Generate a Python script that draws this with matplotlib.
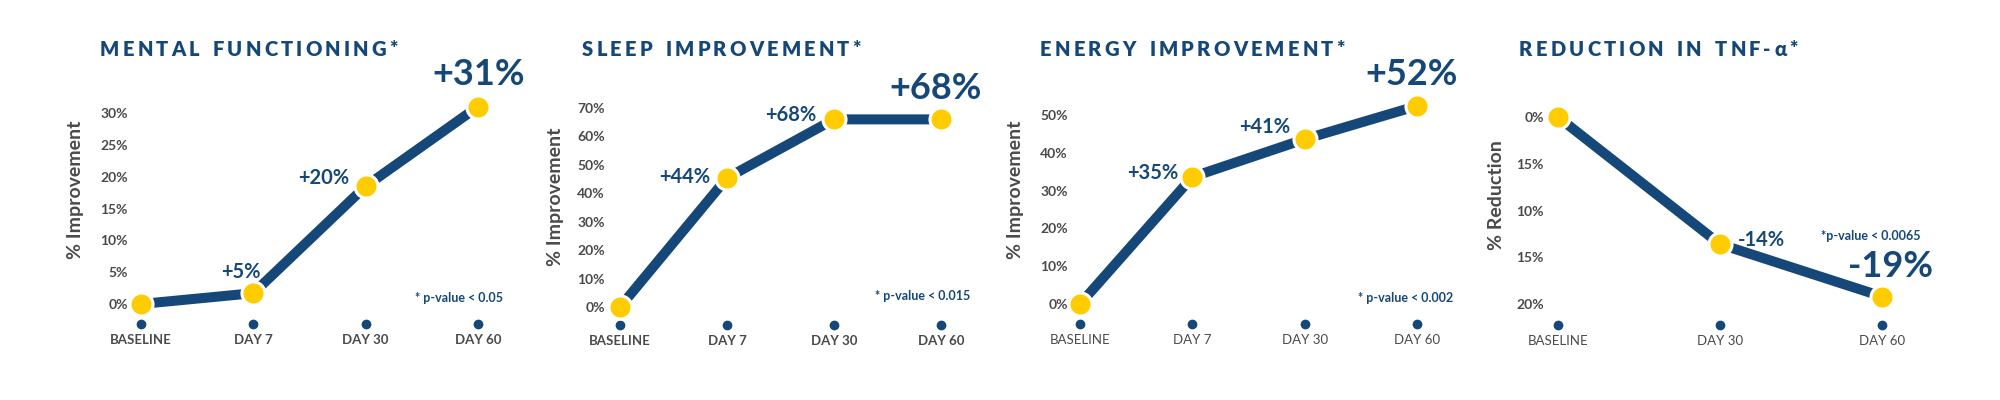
"""Four small line panels: improvement over time."""

import matplotlib
matplotlib.use("Agg")

import matplotlib.pyplot as plt

NAVY = "#154878"
YELLOW = "#FFCC00"
GRAY = "#4A4A4A"
FONT = ["Lato", "DejaVu Sans"]

# -- data --

mental_cats = ["BASELINE", "DAY 7", "DAY 30", "DAY 60"]
mental_vals = [0, 1.7, 18.5, 31]
mental_text = ["", "+5%", "+20%", "+31%"]
mental_ticks = [0, 5, 10, 15, 20, 25, 30]
mental_ticklabels = ["0%", "5%", "10%", "15%", "20%", "25%", "30%"]

sleep_cats = ["BASELINE", "DAY 7", "DAY 30", "DAY 60"]
sleep_vals = [0, 45.4, 66, 66]
sleep_text = ["", "+44%", "+68%", "+68%"]
sleep_ticks = [0, 10, 20, 30, 40, 50, 60, 70]
sleep_ticklabels = ["0%", "10%", "20%", "30%", "40%", "50%", "60%", "70%"]

energy_cats = ["BASELINE", "DAY 7", "DAY 30", "DAY 60"]
energy_vals = [0, 33.6, 43.6, 52.4]
energy_text = ["", "+35%", "+41%", "+52%"]
energy_ticks = [0, 10, 20, 30, 40, 50]
energy_ticklabels = ["0%", "10%", "20%", "30%", "40%", "50%"]

tnf_cats = ["BASELINE", "DAY 30", "DAY 60"]
tnf_vals = [0, 13.6, 19.2]
tnf_text = ["", "-14%", "-19%"]
tnf_ticks = [0, 5, 10, 15, 20]
tnf_ticklabels = ["0%", "15%", "10%", "15%", "20%"]

panels = [
    dict(title="MENTAL FUNCTIONING*", ylabel="% Improvement", note="* p-value < 0.05",
         cats=mental_cats, vals=mental_vals, text=mental_text,
         ticks=mental_ticks, ticklabels=mental_ticklabels),
    dict(title="SLEEP IMPROVEMENT*", ylabel="% Improvement", note="* p-value < 0.015",
         cats=sleep_cats, vals=sleep_vals, text=sleep_text,
         ticks=sleep_ticks, ticklabels=sleep_ticklabels),
    dict(title="ENERGY IMPROVEMENT*", ylabel="% Improvement", note="* p-value < 0.002",
         cats=energy_cats, vals=energy_vals, text=energy_text,
         ticks=energy_ticks, ticklabels=energy_ticklabels),
    dict(title="REDUCTION IN TNF-α*", ylabel="% Reduction", note="*p-value < 0.0065",
         cats=tnf_cats, vals=tnf_vals, text=tnf_text,
         ticks=tnf_ticks, ticklabels=tnf_ticklabels),
]

# -- layout (pixels in a 2000x400 canvas) --

layout = [
    dict(left=132, cat0=141, cat1=478, bottom=324, top=80, ref=((304, 0), (113, 30)),
         title=(100, 56), ylab=(76, 190), note=(415, 298), bold_x=True,
         offs=[None, (-12, -21, "center", 14.5), (-16, -8, "right", 14.5), (1, -32, "center", 26)]),
    dict(left=609, cat0=620, cat1=941, bottom=325, top=80, ref=((307, 0), (108, 70)),
         title=(582, 56), ylab=(555, 197), note=(875, 296), bold_x=True,
         offs=[None, (-17, -1, "right", 14.5), (-18, -4, "right", 14.5), (-5, -31, "center", 26)]),
    dict(left=1072, cat0=1080, cat1=1417, bottom=324, top=80, ref=((304, 0), (115, 50)),
         title=(1040, 56), ylab=(1016, 190), note=(1358, 298), bold_x=False,
         offs=[None, (-14, -4, "right", 14.5), (-14, -12, "right", 14.5), (-5, -31, "center", 26)]),
    dict(left=1548, cat0=1558, cat1=1882, bottom=325, top=80, ref=((117, 0), (304, 20)),
         title=(1519, 56), ylab=(1496, 195), note=(1821, 236), bold_x=False,
         offs=[None, (18, -4, "left", 14.5), (8, -30, "center", 26)]),
]

W, H = 2000, 400
TRACK = 3.2  # px of extra letter spacing in titles


fig = plt.figure(figsize=(20, 4), dpi=100)
plt.rcParams["font.family"] = FONT
renderer = fig.canvas.get_renderer()


def tracked_title(x, y, s):
    # draw char by char so the title gets wide letter spacing
    for ch in s:
        if ch == " ":
            x += 7 + TRACK
            continue
        t = fig.text(x / W, 1 - y / H, ch, fontsize=14.5, fontweight="heavy",
                     color=NAVY, ha="left", va="baseline")
        x += t.get_window_extent(renderer).width + TRACK


for p, L in zip(panels, layout):
    n = len(p["cats"])
    right = L["cat1"] + 60
    sp = (L["cat1"] - L["cat0"]) / (n - 1)
    (py0, v0), (py1, v1) = L["ref"]
    scale = (py0 - py1) / (v1 - v0)
    ax = fig.add_axes([L["left"] / W, 1 - L["bottom"] / H,
                       (right - L["left"]) / W, (L["bottom"] - L["top"]) / H])
    ax.set_xlim((L["left"] - L["cat0"]) / sp, (right - L["cat0"]) / sp)
    ax.set_ylim(v0 - (L["bottom"] - py0) / scale, v0 + (py0 - L["top"]) / scale)
    for s in ax.spines.values():
        s.set_visible(False)

    x = list(range(n))
    ax.plot(x, p["vals"], color=NAVY, lw=7.2, solid_capstyle="butt", zorder=2, clip_on=False)
    ax.plot(x, p["vals"], "o", ms=16.6, mfc=YELLOW, mec="white", mew=2.2, zorder=3, clip_on=False)
    ax.plot(x, [0] * n, "o", ms=6, color=NAVY, transform=ax.get_xaxis_transform(), clip_on=False)

    ax.set_xticks(x, p["cats"])
    ax.tick_params(axis="x", length=0, pad=7, labelsize=9.5, labelcolor=GRAY)
    for t in ax.get_xticklabels():
        t.set_fontweight("bold" if L["bold_x"] else "normal")
    ax.set_yticks(p["ticks"], p["ticklabels"])
    ax.tick_params(axis="y", length=0, pad=3, labelsize=10, labelcolor=GRAY)
    for t in ax.get_yticklabels():
        t.set_fontweight("bold")

    for xi, (v, txt, off) in enumerate(zip(p["vals"], p["text"], L["offs"])):
        if not txt:
            continue
        dx, dy, ha, size = off
        ax.annotate(txt, (xi, v), xytext=(dx * 0.72, -dy * 0.72), textcoords="offset points",
                    ha=ha, va="center", fontsize=size, fontweight="bold", color=NAVY,
                    annotation_clip=False)

    tracked_title(*L["title"], p["title"])
    lx, ly = L["ylab"]
    fig.text(lx / W, 1 - ly / H, p["ylabel"], rotation=90, fontsize=14, fontweight="bold",
             color=GRAY, ha="center", va="center")
    nx, ny = L["note"]
    fig.text(nx / W, 1 - ny / H, p["note"], fontsize=9, fontweight="bold",
             color=NAVY, ha="left", va="center")

fig.savefig("out.png", dpi=100, facecolor="white")
